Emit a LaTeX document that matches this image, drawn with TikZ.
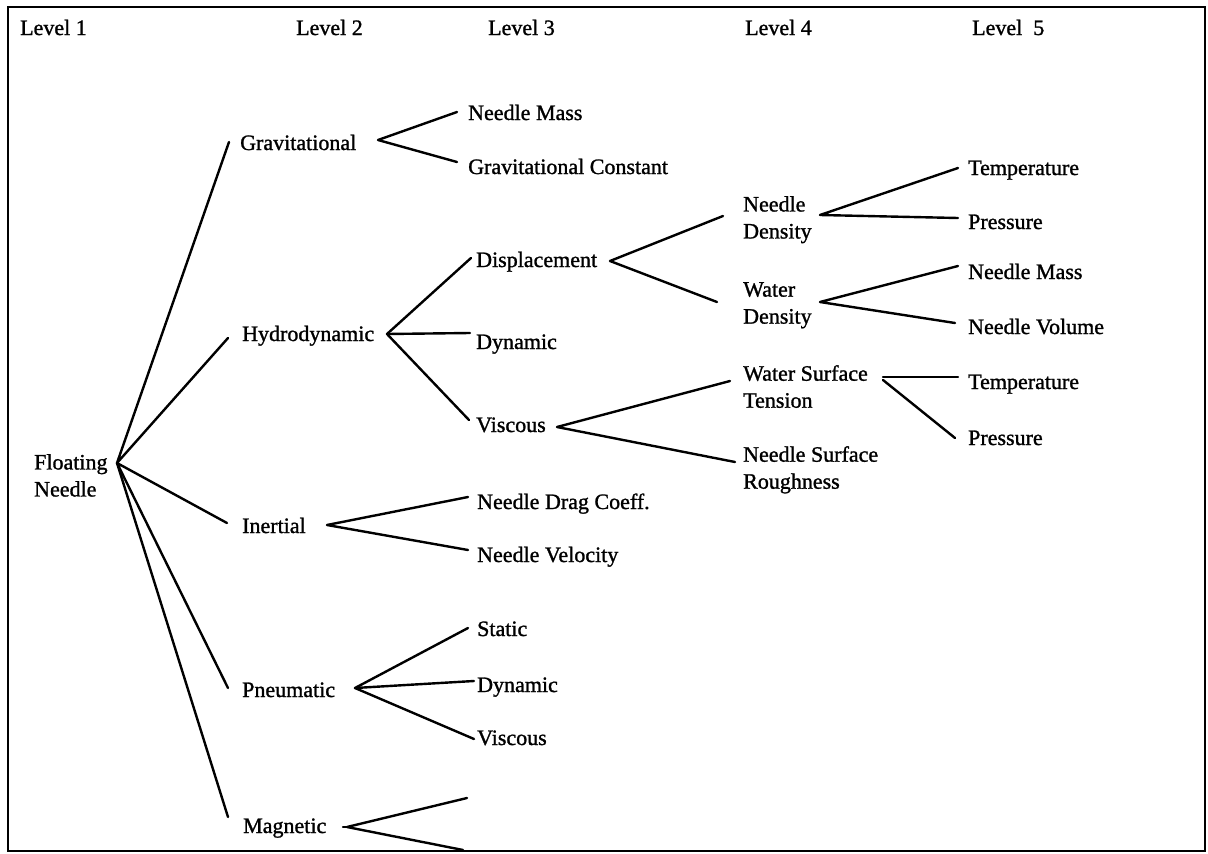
\documentclass[tikz,border=0pt]{standalone}
\usepackage{fontspec}
\setmainfont{Liberation Serif}[FakeBold=1.2]
\begin{document}
\begin{tikzpicture}[x=1pt,y=-1pt,
  lbl/.style={anchor=base west,inner sep=0pt,font=\fontsize{22}{27}\selectfont},
  lbltwo/.style={anchor=north west,inner sep=0pt,align=left,font=\fontsize{22}{27}\selectfont},
  edge/.style={line width=2.4pt,line cap=round,line join=round},
  frame/.style={line width=2.6pt}]
\useasboundingbox (0,0) rectangle (1208,854);
\draw[frame] (8,7) rectangle (1205,851);

% column headings
\node[lbl] (h1) at (20,35)  {Level 1};
\node[lbl] (h2) at (296,35) {Level 2};
\node[lbl] (h3) at (488,35) {Level 3};
\node[lbl] (h4) at (745,35) {Level 4};
\node[lbl] (h5) at (972,35) {Level\enspace 5};

% level 1
\node[lbltwo] (root) at (34,454) {Floating\\Needle};
\coordinate (root-out) at (117,463);

% level 2
\node[lbl] (grav)  at (240,150) {Gravitational};
\node[lbl] (hydro) at (242,341) {Hydrodynamic};
\node[lbl] (iner)  at (242,533) {Inertial};
\node[lbl] (pneu)  at (242,697) {Pneumatic};
\node[lbl] (magn)  at (243,833) {Magnetic};
\coordinate (grav-in)  at (229,142);  \coordinate (grav-out)  at (378,140);
\coordinate (hydro-in) at (228,338);  \coordinate (hydro-out) at (387,334);
\coordinate (iner-in)  at (227,523);  \coordinate (iner-out)  at (327,525);
\coordinate (pneu-in)  at (228,688);  \coordinate (pneu-out)  at (355,688);
\coordinate (magn-in)  at (228,817);  \coordinate (magn-out)  at (347,827);
\coordinate (magn-stub) at (343,827);

% level 3
\node[lbl] (gmass)  at (468,120) {Needle Mass};
\node[lbl] (gconst) at (468,174) {Gravitational Constant};
\node[lbl] (disp)   at (476,267) {Displacement};
\node[lbl] (hdyn)   at (476,349) {Dynamic};
\node[lbl] (hvisc)  at (476,432) {Viscous};
\node[lbl] (drag)   at (477,509) {Needle Drag Coeff.};
\node[lbl] (veloc)  at (477,562) {Needle Velocity};
\node[lbl] (pstat)  at (477,636) {Static};
\node[lbl] (pdyn)   at (477,692) {Dynamic};
\node[lbl] (pvisc)  at (477,745) {Viscous};
\coordinate (gmass-in)  at (457,112);
\coordinate (gconst-in) at (457,162);
\coordinate (disp-in)   at (471,258);  \coordinate (disp-out)  at (610,261);
\coordinate (hdyn-in)   at (470,333);
\coordinate (hvisc-in)  at (469,420);  \coordinate (hvisc-out) at (557,427);
\coordinate (drag-in)   at (468,497);
\coordinate (veloc-in)  at (468,550);
\coordinate (pstat-in)  at (468,628);
\coordinate (pdyn-in)   at (474,681);
\coordinate (pvisc-in)  at (474,739);
\coordinate (magn-a)    at (467,798);
\coordinate (magn-b)    at (463,850);

% level 4
\node[lbltwo] (ndens) at (743,196) {Needle\\Density};
\node[lbltwo] (wdens) at (743,282) {Water\\Density};
\node[lbltwo] (wst)   at (743,365) {Water Surface\\Tension};
\node[lbltwo] (nsr)   at (743,446) {Needle Surface\\Roughness};
\coordinate (ndens-in) at (723,216);  \coordinate (ndens-out) at (820,215);
\coordinate (wdens-in) at (717,302);  \coordinate (wdens-out) at (820,302);
\coordinate (wst-in)   at (730,381);  \coordinate (wst-out)   at (883,377);
\coordinate (wst-out2) at (883,380);
\coordinate (nsr-in)   at (735,462);

% level 5
\node[lbl] (temp1)  at (968,175) {Temperature};
\node[lbl] (pres1)  at (968,229) {Pressure};
\node[lbl] (nmass)  at (968,279) {Needle Mass};
\node[lbl] (nvol)   at (968,334) {Needle Volume};
\node[lbl] (temp2)  at (968,389) {Temperature};
\node[lbl] (pres2)  at (968,445) {Pressure};
\coordinate (temp1-in) at (958,168);
\coordinate (pres1-in) at (958,218);
\coordinate (nmass-in) at (958,266);
\coordinate (nvol-in)  at (955,323);
\coordinate (temp2-in) at (958,377);
\coordinate (pres2-in) at (955,438);

% connectors
\draw[edge] (grav-in) -- (root-out) -- (hydro-in);
\draw[edge] (iner-in) -- (root-out) -- (pneu-in);
\draw[edge] (root-out) -- (magn-in);

\draw[edge] (gmass-in) -- (grav-out) -- (gconst-in);
\draw[edge] (disp-in) -- (hydro-out) -- (hvisc-in);
\draw[edge] (hydro-out) -- (hdyn-in);
\draw[edge] (drag-in) -- (iner-out) -- (veloc-in);
\draw[edge] (pstat-in) -- (pneu-out) -- (pvisc-in);
\draw[edge] (pneu-out) -- (pdyn-in);
\draw[edge] (magn-a) -- (magn-out) -- (magn-b);
\draw[edge] (magn-stub) -- (magn-out);

\draw[edge] (ndens-in) -- (disp-out) -- (wdens-in);
\draw[edge] (wst-in) -- (hvisc-out) -- (nsr-in);

\draw[edge] (temp1-in) -- (ndens-out) -- (pres1-in);
\draw[edge] (nmass-in) -- (wdens-out) -- (nvol-in);
\draw[edge] (wst-out) -- (temp2-in);
\draw[edge] (wst-out2) -- (pres2-in);
\end{tikzpicture}
\end{document}
